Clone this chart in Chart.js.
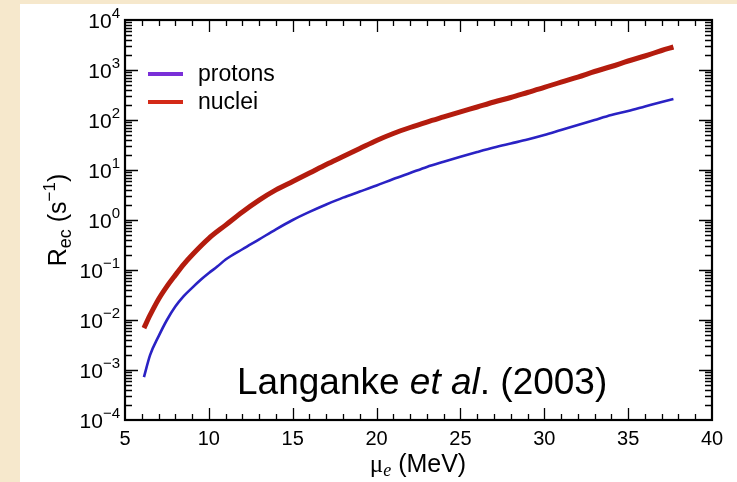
<!DOCTYPE html>
<html>
<head>
<meta charset="utf-8">
<script src="https://cdn.jsdelivr.net/npm/chart.js@4"></script>
<style>
  html, body { margin: 0; padding: 0; background: #f6e8cc; }
  #wrap { width: 737px; height: 482px; position: relative; }
  canvas { display: block; }
</style>
</head>
<body>
<div id="wrap"><canvas id="c" width="737" height="482"></canvas></div>
<script>
// ---- data ----
const muProtons = [6.13, 6.5, 7, 7.5, 8, 8.5, 9, 9.5, 10, 10.5, 11, 12, 13, 14, 15, 16, 17, 18, 19, 20, 21, 22, 23, 24, 25, 26, 27, 28, 29, 30, 31, 32, 33, 34, 35, 36, 37, 37.7];
const rateProtons = [0.00072, 0.0020, 0.0047, 0.010, 0.0186, 0.030, 0.044, 0.063, 0.087, 0.117, 0.162, 0.26, 0.41, 0.65, 1.0, 1.45, 2.04, 2.8, 3.7, 4.9, 6.6, 8.7, 11.5, 14.6, 18.4, 22.9, 28.2, 33.9, 40.7, 50, 63, 79, 100, 126, 151, 186, 229, 263];
const muNuclei = [6.13, 6.5, 7, 7.5, 8, 8.5, 9, 10, 11, 12, 13, 14, 15, 16, 17, 18, 19, 20, 21, 22, 23, 24, 25, 26, 27, 28, 29, 30, 31, 32, 33, 34, 35, 36, 37, 37.7];
const rateNuclei = [0.0069, 0.0126, 0.026, 0.047, 0.079, 0.13, 0.20, 0.43, 0.79, 1.45, 2.5, 4.0, 5.9, 8.7, 12.9, 18.6, 26.9, 38.9, 53.7, 70.8, 91, 115, 145, 182, 229, 282, 355, 447, 575, 724, 933, 1175, 1514, 1905, 2455, 2884];
const xTickLabels = ['5', '10', '15', '20', '25', '30', '35', '40'];
const yTickExponents = ['4', '3', '2', '1', '0', '−1', '−2', '−3', '−4'];
const seriesNames = ['protons', 'nuclei'];

const SANS = '"Liberation Sans", Arial, Helvetica, sans-serif';
const SERIF = '"Liberation Serif", "Times New Roman", serif';

function pts(xs, ys) { return xs.map((x, i) => ({ x: x, y: ys[i] })); }

const decorPlugin = {
  id: 'decor',
  beforeDraw(chart) {
    const ctx = chart.ctx;
    ctx.save();
    ctx.fillStyle = '#f6e8cc';
    ctx.fillRect(0, 0, chart.width, chart.height);
    ctx.fillStyle = '#ffffff';
    ctx.fillRect(20, 4, chart.width - 20, chart.height - 4);
    ctx.restore();
  },
  afterDraw(chart) {
    const ctx = chart.ctx;
    const a = chart.chartArea;
    const xs = chart.scales.x, ys = chart.scales.y;
    ctx.save();
    ctx.strokeStyle = '#000';
    ctx.lineWidth = 1.3;
    ctx.beginPath();
    // x ticks (inward, bottom and top)
    for (let v = 5; v <= 40; v += 1) {
      const px = Math.round(xs.getPixelForValue(v)) + 0.5;
      const len = (v % 5 === 0) ? 12 : 6;
      if (v === 5 || v === 40) continue;
      ctx.moveTo(px, a.bottom); ctx.lineTo(px, a.bottom - len);
      ctx.moveTo(px, a.top); ctx.lineTo(px, a.top + len);
    }
    // y ticks (inward, left and right)
    for (let e = -4; e <= 4; e++) {
      for (let m = 1; m <= 9; m++) {
        if (e === 4 && m > 1) break;
        const v = m * Math.pow(10, e);
        const py = Math.round(ys.getPixelForValue(v)) + 0.5;
        const len = (m === 1) ? 13 : 7;
        if ((e === -4 || e === 4) && m === 1) continue;
        ctx.moveTo(a.left, py); ctx.lineTo(a.left + len, py);
        ctx.moveTo(a.right, py); ctx.lineTo(a.right - len, py);
      }
    }
    ctx.stroke();
    // frame
    ctx.lineWidth = 2.2;
    ctx.strokeRect(a.left, a.top, a.right - a.left, a.bottom - a.top);

    ctx.fillStyle = '#000';
    // x tick labels
    ctx.font = '20px ' + SANS;
    ctx.textAlign = 'center';
    ctx.textBaseline = 'alphabetic';
    xTickLabels.forEach(t => {
      const px = xs.getPixelForValue(parseFloat(t));
      ctx.fillText(t, px, 445);
    });
    // y tick labels 10^n
    yTickExponents.forEach(ex => {
      const n = parseFloat(ex.replace('−', '-'));
      const py = ys.getPixelForValue(Math.pow(10, n));
      const right = 120;
      ctx.font = '15px ' + SANS;
      const ew = ctx.measureText(ex).width;
      ctx.textAlign = 'left';
      ctx.fillText(ex, right - ew, py - 2);
      ctx.font = '21px ' + SANS;
      ctx.textAlign = 'right';
      ctx.fillText('10', right - ew, py + 8);
    });

    // y axis title
    ctx.save();
    ctx.translate(58, 220);
    ctx.rotate(-Math.PI / 2);
    const parts = [
      { t: 'R', f: '25px ' + SANS, dy: 0 },
      { t: 'ec', f: '18px ' + SANS, dy: 5 },
      { t: ' (s', f: '25px ' + SANS, dy: 0 },
      { t: '−1', f: '17px ' + SANS, dy: -11 },
      { t: ')', f: '25px ' + SANS, dy: 0 }
    ];
    let tw = 0;
    parts.forEach(p => { ctx.font = p.f; p.w = ctx.measureText(p.t).width; tw += p.w; });
    let cx = -tw / 2;
    ctx.textAlign = 'left';
    parts.forEach(p => { ctx.font = p.f; ctx.fillText(p.t, cx, 8 + p.dy); cx += p.w; });
    ctx.restore();

    // x axis title
    {
      const xp = [
        { t: 'μ', f: '25px ' + SERIF, dy: 0 },
        { t: 'e', f: 'italic 18px ' + SERIF, dy: 4 },
        { t: ' (MeV)', f: '25px ' + SANS, dy: 0 }
      ];
      let w = 0;
      xp.forEach(p => { ctx.font = p.f; p.w = ctx.measureText(p.t).width; w += p.w; });
      let x0 = 418 - w / 2;
      ctx.textAlign = 'left';
      xp.forEach(p => { ctx.font = p.f; ctx.fillText(p.t, x0, 472 + p.dy); x0 += p.w; });
    }

    // annotation
    {
      const ap = [
        { t: 'Langanke ', f: '37px ' + SANS },
        { t: 'et al', f: 'italic 37px ' + SANS },
        { t: '. (2003)', f: '37px ' + SANS }
      ];
      let x0 = 237;
      ctx.textAlign = 'left';
      ap.forEach(p => { ctx.font = p.f; ctx.fillText(p.t, x0, 394); x0 += ctx.measureText(p.t).width; });
    }

    // legend
    const legendColors = ['#7a2fd8', '#d42a18'];
    const legendY = [74, 102];
    seriesNames.forEach((name, i) => {
      ctx.strokeStyle = legendColors[i];
      ctx.lineWidth = 4;
      ctx.beginPath();
      ctx.moveTo(148, legendY[i]); ctx.lineTo(183, legendY[i]);
      ctx.stroke();
      ctx.fillStyle = '#000';
      ctx.font = '23px ' + SANS;
      ctx.textAlign = 'left';
      ctx.fillText(name, 198, legendY[i] + 7);
    });
    ctx.restore();
  }
};

new Chart(document.getElementById('c'), {
  type: 'line',
  data: {
    datasets: [
      {
        label: seriesNames[0],
        data: pts(muProtons, rateProtons),
        borderColor: '#2a22c4',
        borderWidth: 2.6,
        pointRadius: 0,
        cubicInterpolationMode: 'monotone',
        fill: false
      },
      {
        label: seriesNames[1],
        data: pts(muNuclei, rateNuclei),
        borderColor: '#b41c0e',
        borderWidth: 5,
        pointRadius: 0,
        cubicInterpolationMode: 'monotone',
        fill: false
      }
    ]
  },
  options: {
    responsive: false,
    animation: false,
    devicePixelRatio: 1,
    layout: { padding: { left: 125, top: 20, right: 25, bottom: 62 } },
    plugins: { legend: { display: false }, tooltip: { enabled: false } },
    scales: {
      x: {
        type: 'linear', min: 5, max: 40,
        grid: { display: false, drawTicks: false },
        border: { display: false },
        ticks: { display: false },
        title: { display: false }
      },
      y: {
        type: 'logarithmic', min: 1e-4, max: 1e4,
        grid: { display: false, drawTicks: false },
        border: { display: false },
        ticks: { display: false },
        title: { display: false }
      }
    }
  },
  plugins: [decorPlugin]
});
</script>
</body>
</html>
